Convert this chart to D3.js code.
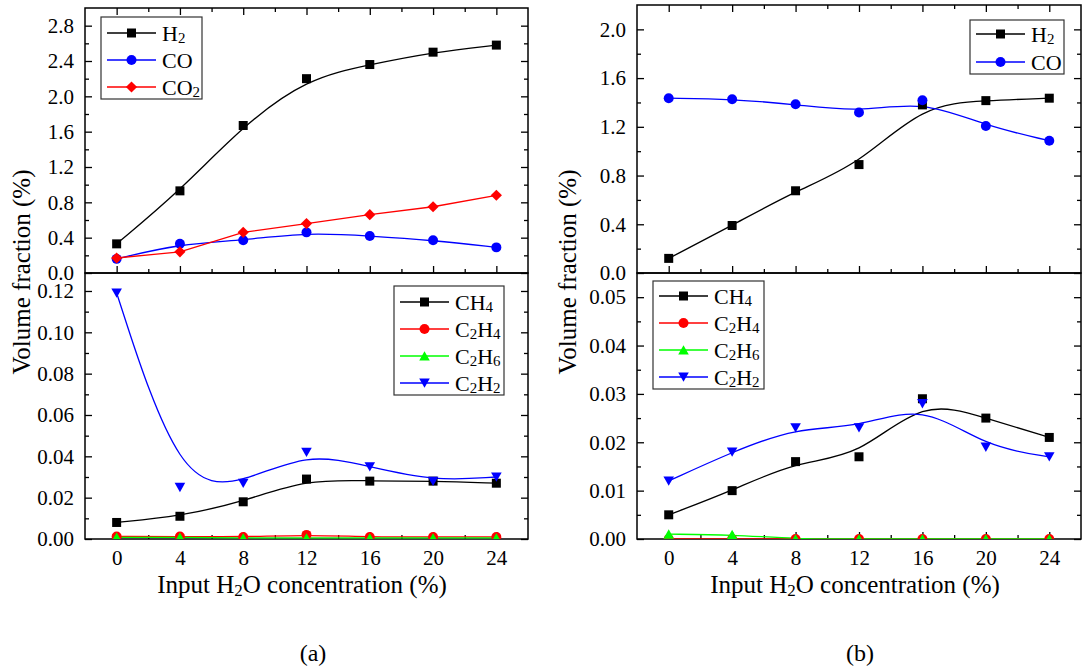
<!DOCTYPE html>
<html>
<head>
<meta charset="utf-8">
<script src="https://cdn.jsdelivr.net/npm/d3@7"></script>
<style>
body { margin: 0; background: #fff; }
text { font-family: "Liberation Serif", "Times New Roman", serif; fill: #000; }
</style>
</head>
<body>
<div id="chart"></div>
<script>
// input H2O concentration (%)
var xValues = [0, 4, 8, 12, 16, 20, 24];
var xMajor = [0, 4, 8, 12, 16, 20, 24];
var xMinor = [2, 6, 10, 14, 18, 22];

// (a) upper: H2, CO, CO2
var aH2 = [0.33, 0.93, 1.67, 2.20, 2.36, 2.50, 2.58];
var aCO = [0.16, 0.33, 0.37, 0.46, 0.42, 0.37, 0.29];
var aCO2 = [0.17, 0.24, 0.46, 0.56, 0.66, 0.75, 0.88];
// (a) lower: hydrocarbons
var aCH4 = [0.008, 0.011, 0.018, 0.029, 0.028, 0.028, 0.027];
var aC2H4 = [0.0012, 0.0012, 0.001, 0.002, 0.001, 0.001, 0.001];
var aC2H6 = [0.0008, 0.0008, 0.0005, 0.0005, 0.0005, 0.0005, 0.0005];
var aC2H2 = [0.119, 0.025, 0.027, 0.042, 0.035, 0.028, 0.030];

// (b) upper: H2, CO
var bH2 = [0.12, 0.39, 0.675, 0.89, 1.38, 1.415, 1.435];
var bCO = [1.435, 1.427, 1.385, 1.317, 1.418, 1.207, 1.086];
// (b) lower
var bCH4 = [0.005, 0.010, 0.016, 0.017, 0.029, 0.025, 0.021];
var bC2H4 = [0, 0, 0, 0, 0, 0, 0];
var bC2H6 = [0.001, 0.0009, 0, 0, 0, 0, 0];
var bC2H2 = [0.012, 0.018, 0.023, 0.023, 0.028, 0.019, 0.017];

// y ticks
var aTopMajor = [0, 0.4, 0.8, 1.2, 1.6, 2.0, 2.4, 2.8];
var aTopMinor = [0.2, 0.6, 1.0, 1.4, 1.8, 2.2, 2.6];
var aBotMajor = [0, 0.02, 0.04, 0.06, 0.08, 0.10, 0.12];
var aBotMinor = [0.01, 0.03, 0.05, 0.07, 0.09, 0.11];
var bTopMajor = [0, 0.4, 0.8, 1.2, 1.6, 2.0];
var bTopMinor = [0.2, 0.6, 1.0, 1.4, 1.8];
var bBotMajor = [0, 0.01, 0.02, 0.03, 0.04, 0.05];
var bBotMinor = [0.005, 0.015, 0.025, 0.035, 0.045];

var BLUE = "#0000ff", RED = "#ff0000", GREEN = "#00ff00", BLACK = "#000000";

var svg = d3.select("#chart").append("svg")
    .attr("width", 1082).attr("height", 670)
    .style("background", "#fff");

// marker shapes
function shapePath(shape) {
    if (shape == "square") return "M-4.5,-4.5h9v9h-9Z";
    if (shape == "circle") return d3.symbol(d3.symbolCircle, 78)();
    if (shape == "diamond") return "M0,-5.6L5.6,0L0,5.6L-5.6,0Z";
    if (shape == "up") return "M0,-4.8L5.3,4.5L-5.3,4.5Z";
    if (shape == "down") return "M0,4.8L5.3,-4.5L-5.3,-4.5Z";
}

// text with digits as subscripts (H2, C2H4, H2O ...)
function chemText(sel, str) {
    var parts = str.match(/\d+|\D+/g);
    var down = false;
    parts.forEach(function (p) {
        var isSub = /\d/.test(p);
        var t = sel.append("tspan").text(p);
        if (isSub) {
            t.attr("font-size", "0.68em").attr("dy", "0.2em");
            down = true;
        } else if (down) {
            t.attr("dy", "-0.136em");
            down = false;
        }
    });
}

function styleAxis(g) {
    g.select(".domain").remove();
    g.selectAll("line").attr("stroke", "#000").attr("stroke-width", 1.3);
    g.attr("font-family", null).attr("font-size", null);
    g.selectAll("text").attr("font-size", 21).attr("fill", "#000");
}

function drawPanel(p) {
    var x = p.x, y = p.y;
    var left = x.range()[0], right = x.range()[1];
    var bot = y.range()[0], top = y.range()[1];
    var g = svg.append("g");

    var clipId = "clip" + p.id;
    svg.append("clipPath").attr("id", clipId)
        .append("rect").attr("x", left).attr("y", top)
        .attr("width", right - left).attr("height", bot - top);

    // left axis
    g.append("g").attr("transform", "translate(" + left + ",0)")
        .call(d3.axisLeft(y).tickValues(p.yMajor).tickSize(-7).tickPadding(11).tickFormat(d3.format(p.fmt)))
        .call(styleAxis);
    g.append("g").attr("transform", "translate(" + left + ",0)")
        .call(d3.axisLeft(y).tickValues(p.yMinor).tickSize(-4).tickFormat(""))
        .call(styleAxis);
    // right axis
    g.append("g").attr("transform", "translate(" + right + ",0)")
        .call(d3.axisRight(y).tickValues(p.yMajor).tickSize(-7).tickFormat(""))
        .call(styleAxis);
    g.append("g").attr("transform", "translate(" + right + ",0)")
        .call(d3.axisRight(y).tickValues(p.yMinor).tickSize(-4).tickFormat(""))
        .call(styleAxis);

    if (p.upper) {
        // top edge and shared edge: inward ticks
        g.append("g").attr("transform", "translate(0," + top + ")")
            .call(d3.axisTop(x).tickValues(xMajor).tickSize(-7).tickFormat(""))
            .call(styleAxis);
        g.append("g").attr("transform", "translate(0," + top + ")")
            .call(d3.axisTop(x).tickValues(xMinor).tickSize(-4).tickFormat(""))
            .call(styleAxis);
        g.append("g").attr("transform", "translate(0," + bot + ")")
            .call(d3.axisBottom(x).tickValues(xMajor).tickSize(-7).tickFormat(""))
            .call(styleAxis);
        g.append("g").attr("transform", "translate(0," + bot + ")")
            .call(d3.axisBottom(x).tickValues(xMinor).tickSize(-4).tickFormat(""))
            .call(styleAxis);
    } else {
        g.append("g").attr("transform", "translate(0," + bot + ")")
            .call(d3.axisBottom(x).tickValues(xMajor).tickSize(-7).tickPadding(11).tickFormat(d3.format("d")))
            .call(styleAxis);
        g.append("g").attr("transform", "translate(0," + bot + ")")
            .call(d3.axisBottom(x).tickValues(xMinor).tickSize(-4).tickFormat(""))
            .call(styleAxis);
    }

    // frame
    g.append("rect").attr("x", left).attr("y", top)
        .attr("width", right - left).attr("height", bot - top)
        .attr("fill", "none").attr("stroke", "#000").attr("stroke-width", 1.5);

    var plot = svg.append("g").attr("clip-path", "url(#" + clipId + ")");
    p.series.forEach(function (s) {
        var line = d3.line()
            .x(function (d, i) { return x(xValues[i]); })
            .y(function (d) { return y(d); })
            .curve(s.smooth ? d3.curveBasis : d3.curveLinear);
        plot.append("path").datum(s.values)
            .attr("d", line)
            .attr("fill", "none").attr("stroke", s.color).attr("stroke-width", 1.3);
    });
    p.series.forEach(function (s) {
        plot.selectAll(null).data(s.values).enter().append("path")
            .attr("d", shapePath(s.shape))
            .attr("transform", function (d, i) { return "translate(" + x(xValues[i]) + "," + y(d) + ")"; })
            .attr("fill", s.color);
    });

    // legend
    var L = p.legend;
    var lg = svg.append("g");
    lg.append("rect").attr("x", L.x).attr("y", L.y).attr("width", L.w).attr("height", L.h)
        .attr("fill", "#fff").attr("stroke", "#333").attr("stroke-width", 1.2);
    p.series.forEach(function (s, i) {
        var cy = L.y + L.first + i * L.step;
        lg.append("line").attr("x1", L.x + 6).attr("x2", L.x + 55)
            .attr("y1", cy).attr("y2", cy)
            .attr("stroke", s.color).attr("stroke-width", 1.3);
        lg.append("path").attr("d", shapePath(s.shape))
            .attr("transform", "translate(" + (L.x + 30.5) + "," + cy + ")")
            .attr("fill", s.color);
        var t = lg.append("text").attr("x", L.x + 61).attr("y", cy + 7.5)
            .attr("font-size", 22);
        chemText(t, s.label);
    });
}

var xa = d3.scaleLinear().domain([-2, 26]).range([85, 528]);
var xb = d3.scaleLinear().domain([-2, 26]).range([637, 1081]);

drawPanel({
    id: "a1", upper: true, x: xa,
    y: d3.scaleLinear().domain([0, 3.0]).range([273, 8]),
    yMajor: aTopMajor, yMinor: aTopMinor, fmt: ".1f",
    series: [
        { label: "H2", values: aH2, color: BLACK, shape: "square", smooth: true },
        { label: "CO", values: aCO, color: BLUE, shape: "circle", smooth: true },
        { label: "CO2", values: aCO2, color: RED, shape: "diamond", smooth: false }
    ],
    legend: { x: 101, y: 17, w: 101, h: 82, first: 16, step: 27 }
});

drawPanel({
    id: "a2", upper: false, x: xa,
    y: d3.scaleLinear().domain([0, 0.1287]).range([539, 273]),
    yMajor: aBotMajor, yMinor: aBotMinor, fmt: ".2f",
    series: [
        { label: "CH4", values: aCH4, color: BLACK, shape: "square", smooth: true },
        { label: "C2H4", values: aC2H4, color: RED, shape: "circle", smooth: true },
        { label: "C2H6", values: aC2H6, color: GREEN, shape: "up", smooth: true },
        { label: "C2H2", values: aC2H2, color: BLUE, shape: "down", smooth: true }
    ],
    legend: { x: 394, y: 286, w: 110, h: 109, first: 16, step: 27 }
});

drawPanel({
    id: "b1", upper: true, x: xb,
    y: d3.scaleLinear().domain([0, 2.2]).range([273, 5]),
    yMajor: bTopMajor, yMinor: bTopMinor, fmt: ".1f",
    series: [
        { label: "H2", values: bH2, color: BLACK, shape: "square", smooth: true },
        { label: "CO", values: bCO, color: BLUE, shape: "circle", smooth: true }
    ],
    legend: { x: 970, y: 20, w: 94, h: 54, first: 14, step: 28 }
});

drawPanel({
    id: "b2", upper: false, x: xb,
    y: d3.scaleLinear().domain([0, 0.055]).range([539, 273]),
    yMajor: bBotMajor, yMinor: bBotMinor, fmt: ".2f",
    series: [
        { label: "CH4", values: bCH4, color: BLACK, shape: "square", smooth: true },
        { label: "C2H4", values: bC2H4, color: RED, shape: "circle", smooth: true },
        { label: "C2H6", values: bC2H6, color: GREEN, shape: "up", smooth: true },
        { label: "C2H2", values: bC2H2, color: BLUE, shape: "down", smooth: true }
    ],
    legend: { x: 653, y: 281, w: 111, h: 108, first: 15, step: 27 }
});

// axis titles
[[21, 272], [567, 272]].forEach(function (pos) {
    svg.append("text")
        .attr("transform", "translate(" + pos[0] + "," + pos[1] + ") rotate(-90)")
        .attr("text-anchor", "middle").attr("dy", "0.35em")
        .attr("font-size", 25)
        .text("Volume fraction (%)");
});
[302, 855].forEach(function (cx) {
    var t = svg.append("text").attr("x", cx).attr("y", 593)
        .attr("text-anchor", "middle").attr("font-size", 25);
    chemText(t, "Input H2O concentration (%)");
});

svg.append("text").attr("x", 313).attr("y", 661).attr("text-anchor", "middle")
    .attr("font-size", 24).text("(a)");
svg.append("text").attr("x", 860).attr("y", 661).attr("text-anchor", "middle")
    .attr("font-size", 24).text("(b)");
</script>
</body>
</html>
